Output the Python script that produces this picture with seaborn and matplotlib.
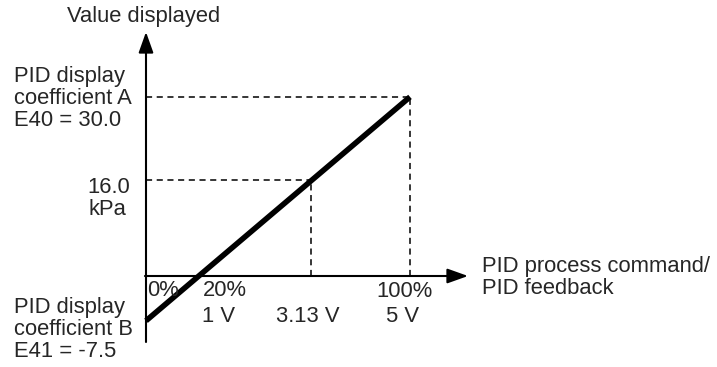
import matplotlib
matplotlib.use('Agg')
import matplotlib.pyplot as plt
import seaborn as sns
import pandas as pd

# line: PID process command (%) -> value displayed
pct = [0, 100]
shown = [-7.5, 30.0]
# reference point
ref_pct = 62.6
ref_val = 16.0

sns.set_style('white')
plt.rcParams['font.family'] = ['Liberation Sans', 'DejaVu Sans']

W, H = 717, 367
fig = plt.figure(figsize=(W / 100, H / 100), dpi=100)
ax = fig.add_axes([0, 0, 1, 1])

# pixel scale of the plot: x=0% at 146px, 2.64 px per %; y=0 at 276px, 5.97 px per unit
ax.set_xlim(-146 / 2.64, (W - 146) / 2.64)
ax.set_ylim((276 - H) / 5.97, 276 / 5.97)
ax.axis('off')

df = pd.DataFrame({'pct': pct, 'shown': shown})
sns.lineplot(data=df, x='pct', y='shown', color='black', lw=4.0,
             solid_capstyle='butt', ax=ax, legend=False)

# guide lines
dash = dict(color='black', lw=1.1, dashes=(4, 3))
ax.plot([0, pct[-1]], [shown[-1], shown[-1]], **dash)
ax.plot([pct[-1], pct[-1]], [0, shown[-1]], **dash)
ax.plot([0, ref_pct], [ref_val, ref_val], **dash)
ax.plot([ref_pct, ref_pct], [0, ref_val], **dash)

# axes with arrow heads
arr = dict(arrowstyle='-|>,head_length=0.7,head_width=0.25', lw=1.5,
           color='black', mutation_scale=18, shrinkA=0, shrinkB=0)
ax.annotate('', xy=(0, (276 - 32) / 5.97), xytext=(0, (276 - 342) / 5.97),
            arrowprops=arr)
ax.annotate('', xy=((468 - 146) / 2.64, 0), xytext=(-0.4, 0), arrowprops=arr)

fs = 15.8
def t(x, y, s, ha='left'):
    fig.text(x / W, 1 - y / H, s, ha=ha, va='baseline', fontsize=fs,
             linespacing=1.0)

t(67, 22, 'Value displayed')
t(14, 82, 'PID display')
t(14, 104, 'coefficient A')
t(14, 126, 'E40 = 30.0')
t(130, 193, '16.0', ha='right')
t(126, 215, 'kPa', ha='right')
t(14, 313, 'PID display')
t(14, 335, 'coefficient B')
t(14, 357, 'E41 = -7.5')
t(147, 296, '0%')
t(225, 296, '20%', ha='center')
t(219, 322, '1 V', ha='center')
t(308, 322, '3.13 V', ha='center')
t(404, 297, '100%', ha='center')
t(402, 322, '5 V', ha='center')
t(482, 272, 'PID process command/')
t(482, 294, 'PID feedback')

fig.savefig('out.png', dpi=100)
